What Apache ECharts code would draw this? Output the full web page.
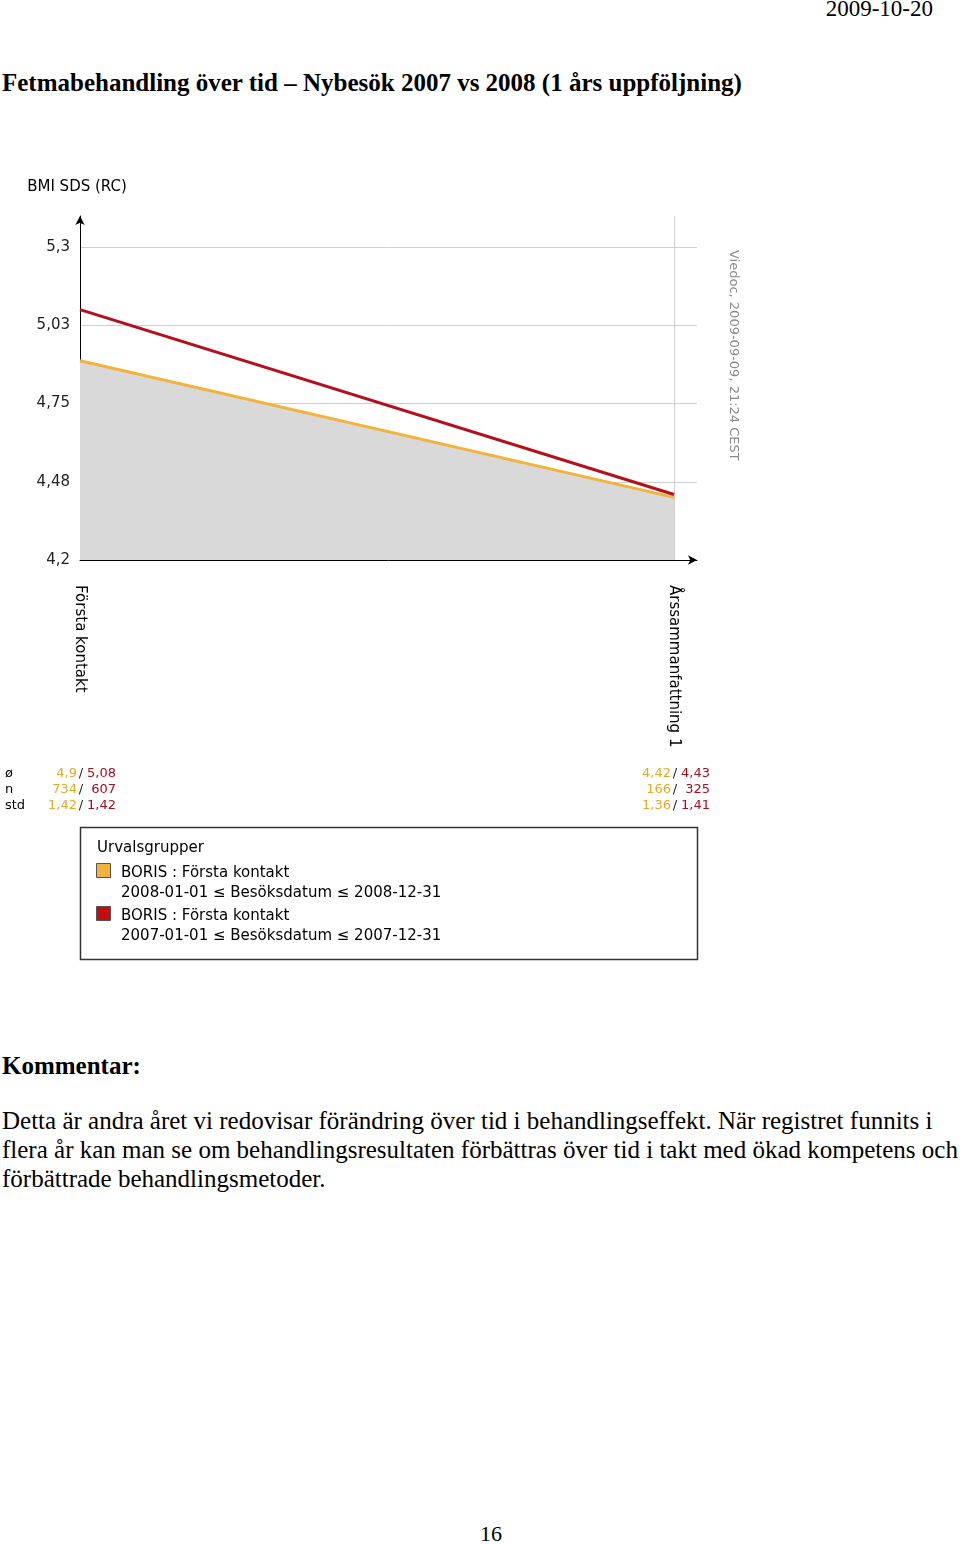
<!DOCTYPE html>
<html><head><meta charset="utf-8">
<script src="https://cdn.jsdelivr.net/npm/echarts@6/dist/echarts.min.js"></script>
<style>
body{margin:0;background:#fff;width:960px;height:1544px;position:relative;overflow:hidden;}
.t{position:absolute;font-family:"Liberation Serif","Times New Roman",serif;color:#000;white-space:nowrap;}
#chart{position:absolute;left:0;top:0;width:960px;height:1000px;}
</style></head>
<body>
<div class="t" style="right:27px;top:-4px;font-size:23px;line-height:26px;">2009-10-20</div>
<div class="t" style="left:2px;top:68px;font-size:25px;line-height:29px;font-weight:bold;">Fetmabehandling över tid – Nybesök 2007 vs 2008 (1 års uppföljning)</div>
<div id="chart"></div>
<div class="t" style="left:2px;top:1051px;font-size:25px;line-height:29px;font-weight:bold;">Kommentar:</div>
<div class="t" style="left:2px;top:1106px;font-size:25px;line-height:29px;">Detta är andra året vi redovisar förändring över tid i behandlingseffekt. När registret funnits i<br>flera år kan man se om behandlingsresultaten förbättras över tid i takt med ökad kompetens och<br>förbättrade behandlingsmetoder.</div>
<div class="t" style="left:480px;top:1521px;font-size:22px;line-height:25px;">16</div>
<script>
// ---- data ----
const categories = ['Första kontakt', 'Årssammanfattning 1'];
const seriesNames = ['BORIS : Första kontakt', 'BORIS : Första kontakt'];
const seriesRanges = ['2008-01-01 ≤ Besöksdatum ≤ 2008-12-31', '2007-01-01 ≤ Besöksdatum ≤ 2007-12-31'];
const mean2008 = [4.9, 4.42];
const mean2007 = [5.08, 4.43];
const n2008 = [734, 166];
const n2007 = [607, 325];
const std2008 = [1.42, 1.36];
const std2007 = [1.42, 1.41];
const statLabels = ['ø', 'n', 'std'];
const yTicks = [4.2, 4.475, 4.75, 5.025, 5.3];
const yAxisTitle = 'BMI SDS (RC)';
const watermark = 'Viedoc, 2009-09-09, 21:24 CEST';
const legendTitle = 'Urvalsgrupper';

// ---- styling ----
const YELLOW = '#f2b33d', RED = '#b3101c';
const YTXT = '#e3aa2a', RTXT = '#a5101e';
const FONT = '"DejaVu Sans", Verdana, sans-serif';
const gridLeft = 80, gridTop = 216, gridW = 617, gridH = 344;
const plotW = 594, plotH = 313; // last category / last tick positions
const yMin = yTicks[0], yStep = yTicks[1] - yTicks[0];
const yTop = yTicks[yTicks.length - 1];
const yAxisMax = yMin + (yTop - yMin) * gridH / plotH;
const xAxisMax = (categories.length - 1) * gridW / plotW;

function fmt(v) {
  const r = Math.round(v * 100 + 1e-6) / 100;
  return String(r).replace('.', ',');
}
const toPairs = arr => arr.map((v, i) => [i, v]);

const chart = echarts.init(document.getElementById('chart'), null, {renderer: 'canvas'});
chart.setOption({
  animation: false,
  textStyle: {fontFamily: FONT},
  grid: {left: gridLeft, top: gridTop, width: gridW, height: gridH},
  xAxis: {
    type: 'value', min: 0, max: xAxisMax, interval: 1,
    axisLine: {show: true, lineStyle: {color: '#000', width: 1}, symbol: ['none', 'arrow'], symbolSize: [7, 9]},
    axisTick: {show: false},
    axisLabel: {
      rotate: -90, margin: 25, color: '#000', fontSize: 15, fontFamily: FONT,
      showMaxLabel: false,
      formatter: v => (Math.abs(v - Math.round(v)) < 1e-6 && categories[Math.round(v)]) ? categories[Math.round(v)] : ''
    },
    splitLine: {show: true, showMinLine: false, showMaxLine: false, lineStyle: {color: '#cfcfcf', width: 1}}
  },
  yAxis: {
    type: 'value', min: yMin, max: yAxisMax, interval: yStep,
    name: yAxisTitle, nameLocation: 'end', nameGap: 21,
    nameTextStyle: {color: '#000', fontSize: 15, fontFamily: FONT, align: 'center', padding: [0, 6, 0, 0]},
    axisLine: {show: true, lineStyle: {color: '#000', width: 1}, symbol: ['none', 'arrow'], symbolSize: [7, 9]},
    axisTick: {show: false},
    axisLabel: {
      margin: 10, color: '#222', fontSize: 15, fontFamily: FONT, showMaxLabel: false,
      padding: [3, 0, 0, 0],
      formatter: v => v > yTop + 1e-6 ? '' : fmt(v)
    },
    splitLine: {show: true, showMinLine: false, showMaxLine: false, lineStyle: {color: '#cfcfcf', width: 1}}
  },
  series: [
    {name: '2008', type: 'line', data: toPairs(mean2008), symbol: 'none',
      lineStyle: {color: YELLOW, width: 3}, itemStyle: {color: YELLOW},
      areaStyle: {color: '#d9d9d9', opacity: 1}, z: 2},
    {name: '2007', type: 'line', data: toPairs(mean2007), symbol: 'none',
      lineStyle: {color: RED, width: 3}, itemStyle: {color: RED}, z: 3}
  ]
});

// ---- stats table, watermark & legend box ----
const g = [];
const rowY = [774, 790, 806];
const rows = [[mean2008, mean2007, v => fmt(v)], [n2008, n2007, v => String(v)], [std2008, std2007, v => fmt(v)]];
statLabels.forEach((lab, r) => {
  g.push({type: 'text', x: 5, y: rowY[r], style: {text: lab, fill: '#000', font: '13px ' + FONT, verticalAlign: 'middle'}});
});
categories.forEach((c, i) => {
  const px = chart.convertToPixel({xAxisIndex: 0}, i);
  const yRight = px - 3;
  const rRight = px + 36;
  rows.forEach((row, r) => {
    g.push({type: 'text', x: yRight, y: rowY[r], style: {text: row[2](row[0][i]), fill: YTXT, font: '13px ' + FONT, align: 'right', verticalAlign: 'middle'}});
    g.push({type: 'text', x: yRight + 4, y: rowY[r], style: {text: '/', fill: '#222', font: '13px ' + FONT, align: 'center', verticalAlign: 'middle'}});
    g.push({type: 'text', x: rRight, y: rowY[r], style: {text: row[2](row[1][i]), fill: RTXT, font: '13px ' + FONT, align: 'right', verticalAlign: 'middle'}});
  });
});
g.push({type: 'text', x: 740, y: 250, rotation: -Math.PI / 2, style: {text: watermark, fill: '#8a8a8a', font: '13px ' + FONT}});
// legend box
g.push({type: 'rect', shape: {x: 80.5, y: 827.5, width: 617, height: 132}, style: {fill: '#fff', stroke: '#333', lineWidth: 1.5}});
g.push({type: 'text', x: 97, y: 848, style: {text: legendTitle, fill: '#000', font: '15px ' + FONT, verticalAlign: 'middle'}});
const swatch = [YELLOW, '#c80c0c'];
seriesNames.forEach((nm, i) => {
  const y0 = 873 + i * 43;
  g.push({type: 'rect', shape: {x: 96.5, y: y0 - 9.5, width: 14, height: 14}, style: {fill: swatch[i], stroke: '#555', lineWidth: 1}});
  g.push({type: 'text', x: 121, y: y0, style: {text: nm, fill: '#000', font: '15px ' + FONT, verticalAlign: 'middle'}});
  g.push({type: 'text', x: 121, y: y0 + 20, style: {text: seriesRanges[i], fill: '#000', font: '15px ' + FONT, verticalAlign: 'middle'}});
});
chart.setOption({graphic: {elements: g}});
</script>
</body></html>
